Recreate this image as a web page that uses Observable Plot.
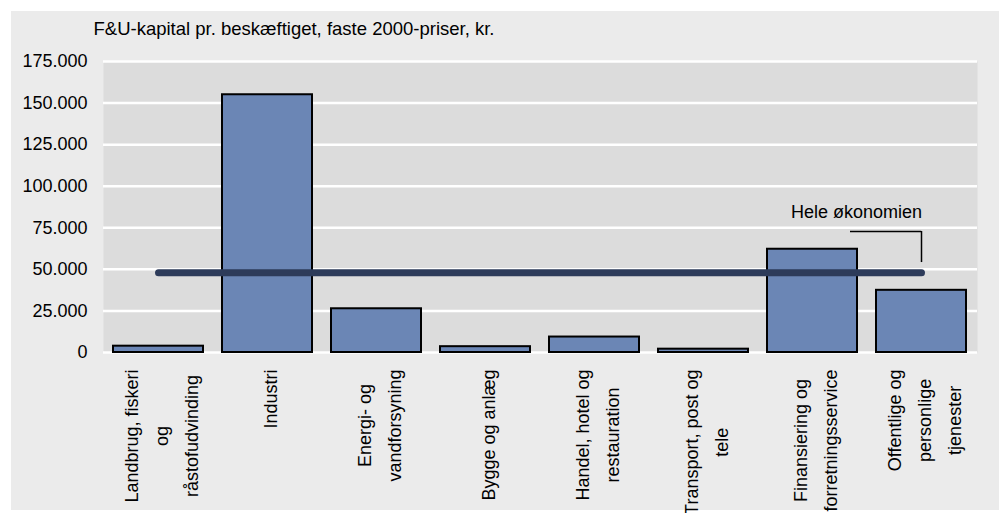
<!DOCTYPE html>
<html>
<head>
<meta charset="utf-8">
<script src="https://cdn.jsdelivr.net/npm/d3@7"></script>
<script src="https://cdn.jsdelivr.net/npm/@observablehq/plot@0.6"></script>
<style>
  html, body { margin: 0; padding: 0; background: #ffffff; }
  #wrap { position: relative; width: 999px; height: 513px; overflow: hidden; }
  #bg { position: absolute; left: 11px; top: 11px; width: 988px; height: 499px; background: #ebebeb; }
  #chart { position: absolute; left: 0; top: 0; }
  #chart svg { font-family: "Liberation Sans", Arial, sans-serif; }
</style>
</head>
<body>
<div id="wrap"><div id="bg"></div><div id="chart"></div></div>
<script>
const categories = [
  "Landbrug, fiskeri og råstofudvinding",
  "Industri",
  "Energi- og vandforsyning",
  "Bygge og anlæg",
  "Handel, hotel og restauration",
  "Transport, post og tele",
  "Finansiering og forretningsservice",
  "Offentlige og personlige tjenester"
];
const categoryLabels = [
  "Landbrug, fiskeri\nog\nråstofudvinding",
  "Industri",
  "Energi- og\nvandforsyning",
  "Bygge og anlæg",
  "Handel, hotel og\nrestauration",
  "Transport, post og\ntele",
  "Finansiering og\nforretningsservice",
  "Offentlige og\npersonlige\ntjenester"
];
const values = [3800, 155000, 26300, 3500, 9300, 2000, 62100, 37400];
const economyAverage = 48000;
const economyLabel = "Hele økonomien";
const yTicks = [0, 25000, 50000, 75000, 100000, 125000, 150000, 175000];
const yTickLabels = ["0", "25.000", "50.000", "75.000", "100.000", "125.000", "150.000", "175.000"];
const chartTitle = "F&U-kapital pr. beskæftiget, faste 2000-priser, kr.";

const data = categories.map((c, i) => ({category: c, label: categoryLabels[i], value: values[i]}));
const avgLine = [categories[0], categories[categories.length - 1]].map(c => ({category: c, value: economyAverage}));
const lastCat = categories[categories.length - 1];

const plot = Plot.plot({
  width: 999,
  height: 513,
  marginLeft: 103,
  marginRight: 22,
  marginTop: 61,
  marginBottom: 161,
  style: {background: "transparent", fontSize: "18px", fontFamily: "Liberation Sans, Arial, sans-serif", color: "#000"},
  x: {domain: categories, paddingInner: 0.17, paddingOuter: 0.085, axis: null},
  y: {domain: [0, 175000], axis: null},
  marks: [
    Plot.frame({fill: "#dcdcdc", stroke: null}),
    Plot.gridY({ticks: yTicks, stroke: "#ffffff", strokeOpacity: 1, strokeWidth: 2.5}),
    Plot.axisY({ticks: yTicks, tickFormat: d => yTickLabels[yTicks.indexOf(d)], tickSize: 0, tickPadding: 16, fontSize: 18, fill: "#000", label: null}),
    Plot.barY(data, {x: "category", y: "value", fill: "#6b86b5", stroke: "#000", strokeWidth: 2}),
    Plot.lineY(avgLine, {x: "category", y: "value", stroke: "#2d3b5a", strokeWidth: 7, strokeLinecap: "round"}),
    Plot.ruleX([lastCat], {y1: 54100, y2: 72800, stroke: "#000", strokeWidth: 1.5}),
    Plot.ruleY([72800], {x1: () => lastCat, x2: () => lastCat, insetLeft: -26, insetRight: 45, stroke: "#000", strokeWidth: 1.5}),
    Plot.text([economyLabel], {x: () => lastCat, y: () => 81000, dx: -65, text: d => d, fontSize: 18, fill: "#000", lineAnchor: "bottom"}),
    Plot.text([chartTitle], {frameAnchor: "top-left", dx: -10, dy: -27, text: d => d, textAnchor: "start", lineAnchor: "bottom", fontSize: 18.5, fill: "#000"}),
    Plot.text(data, {x: "category", y: () => 0, text: "label", rotate: -90, textAnchor: "middle", lineAnchor: "middle", lineHeight: 1.65, dy: 17, fontSize: 18, fill: "#000"})
  ]
});

document.getElementById("chart").appendChild(plot);

// lines are centred on each other; move each block so that its top edge sits just below the axis
const ctx = document.createElement("canvas").getContext("2d");
ctx.font = "18px 'Liberation Sans', Arial, sans-serif";
const wanted = new Map(categoryLabels.map(l => [l.replace(/\n/g, ""), l]));
plot.querySelectorAll("text").forEach(t => {
  const key = t.textContent;
  if (!wanted.has(key)) return;
  const lines = wanted.get(key).split("\n");
  let w = Math.max(...lines.map(s => ctx.measureText(s).width));
  try { const bw = t.getBBox().width; if (bw > 0) w = bw; } catch (e) {}
  const shift = -w / 2;
  const spans = t.querySelectorAll("tspan");
  if (spans.length) spans.forEach(s => s.setAttribute("x", shift));
  else t.setAttribute("x", shift);
});
</script>
</body>
</html>
